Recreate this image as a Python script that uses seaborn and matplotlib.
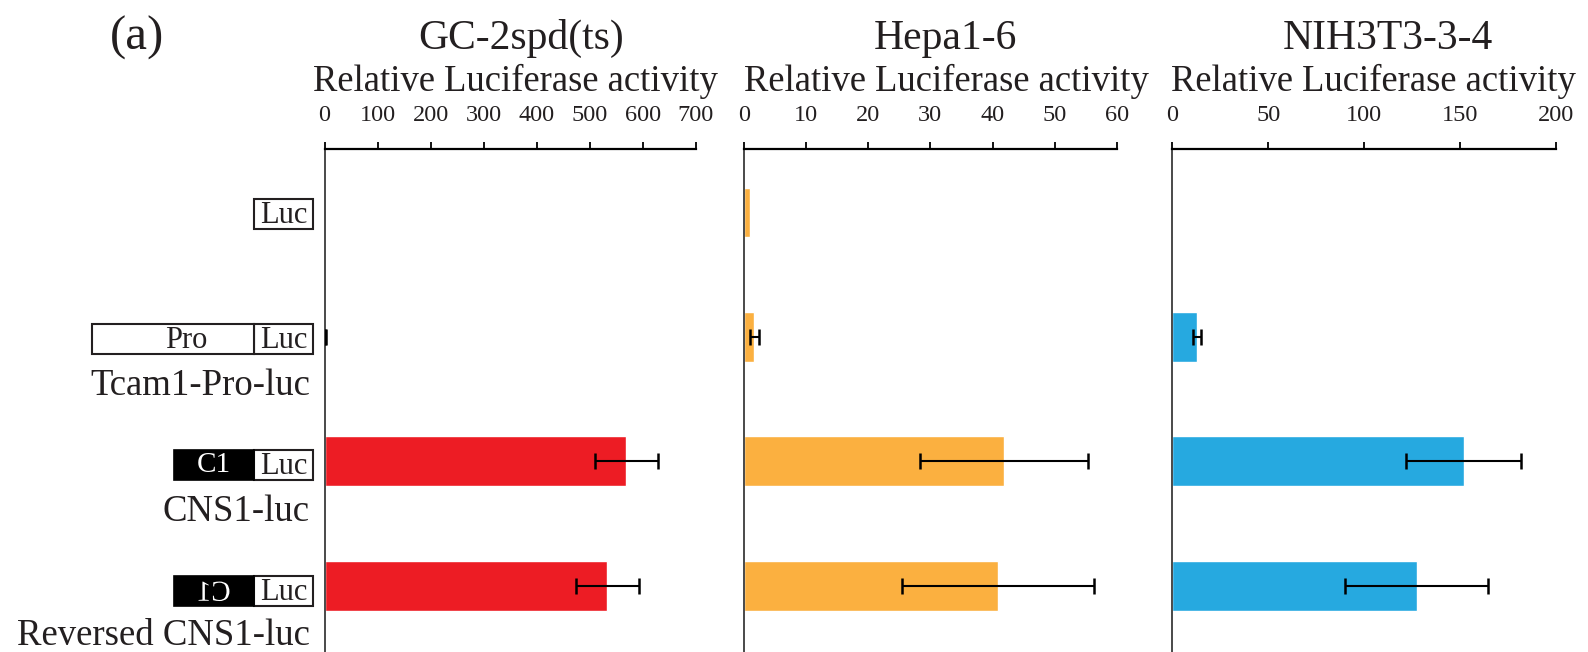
import numpy as np
import pandas as pd
import matplotlib
matplotlib.use("Agg")
import matplotlib.pyplot as plt
import seaborn as sns
from matplotlib.patches import Rectangle, PathPatch
from matplotlib.textpath import TextPath
from matplotlib.font_manager import FontProperties
from matplotlib.transforms import Affine2D

# ---- data -------------------------------------------------------------
constructs = ["Luc", "Tcam1-Pro-luc", "CNS1-luc", "Reversed CNS1-luc"]
row_labels = ["", "Tcam1-Pro-luc", "CNS1-luc", "Reversed CNS1-luc"]
cell_lines = ["GC-2spd(ts)", "Hepa1-6", "NIH3T3-3-4"]

gc_mean = [0.3, 1.5, 569, 533]
gc_sd = [np.nan, 0.5, 59, 59]
hepa_mean = [1.0, 1.7, 41.9, 40.9]
hepa_sd = [np.nan, 0.7, 13.5, 15.4]
nih_mean = [0.5, 12.9, 151.9, 127.4]
nih_sd = [np.nan, 2.3, 29.9, 37.2]

x_max = [700, 60, 200]
x_step = [100, 10, 50]
bar_colors = ["#ED1C24", "#FBB040", "#26A9E0"]

# ---- style ------------------------------------------------------------
sns.set_theme(style="white")
plt.rcParams["font.family"] = ["Liberation Serif", "DejaVu Serif"]
plt.rcParams["text.color"] = "#231F20"

W, H = 1588, 652
fig = plt.figure(figsize=(W / 100, H / 100), dpi=100)


def frac(x, y_top):
    return x / W, 1 - y_top / H


top_px, bot_px = 149.3, 656
row0_px, row_step_px = 212.5, 124.4
ylim = ((bot_px - row0_px) / row_step_px, -(row0_px - top_px) / row_step_px)

lefts = [324.5, 743.7, 1172.3]
rights = [696, 1117, 1556]

means = [gc_mean, hepa_mean, nih_mean]
sds = [gc_sd, hepa_sd, nih_sd]

axes = []
for i in range(3):
    ax = fig.add_axes([lefts[i] / W, 1 - bot_px / H,
                       (rights[i] - lefts[i]) / W, (bot_px - top_px) / H])
    df = pd.DataFrame({"construct": constructs, "value": means[i]})
    sns.barplot(data=df, x="value", y="construct", orient="h",
                color=bar_colors[i], saturation=1, width=0.4,
                errorbar=None, ax=ax)
    pos = np.arange(len(constructs))
    m = np.array(means[i], dtype=float)
    s = np.array(sds[i], dtype=float)
    ok = np.isfinite(s)
    ax.errorbar(m[ok], pos[ok], xerr=s[ok], fmt="none", ecolor="black",
                elinewidth=1.5, capsize=5.5, capthick=1.8, zorder=5)
    ax.set_xlim(0, x_max[i])
    ax.set_ylim(*ylim)
    ax.set_xticks(np.arange(0, x_max[i] + 1, x_step[i]))
    ax.xaxis.tick_top()
    ax.tick_params(axis="x", direction="out", length=5, width=1.3,
                   color="black", pad=12, labelsize=17.5,
                   labelcolor="#231F20")
    ax.tick_params(axis="y", left=False, labelleft=False)
    ax.set_xlabel("")
    ax.set_ylabel("")
    for side in ("right", "bottom"):
        ax.spines[side].set_visible(False)
    ax.spines["top"].set_color("black")
    ax.spines["top"].set_linewidth(1.6)
    ax.spines["left"].set_color("#3a3a3a")
    ax.spines["left"].set_linewidth(1.3)
    ax.patch.set_alpha(0)
    axes.append(ax)

# ---- panel titles and axis captions -----------------------------------
title_x = [521, 945, 1388]
label_x = [515, 946, 1373]
for i in range(3):
    fig.text(*frac(title_x[i], 49), cell_lines[i], ha="center",
             va="baseline", fontsize=30)
    fig.text(*frac(label_x[i], 91), "Relative Luciferase activity",
             ha="center", va="baseline", fontsize=26.4)
fig.text(*frac(137, 50), "(a)", ha="center", va="baseline", fontsize=35)

# ---- construct diagrams on the left -----------------------------------
ax0 = fig.add_axes([0, 1 - bot_px / H, lefts[0] / W, (bot_px - top_px) / H])
ax0.set_xlim(0, lefts[0])
ax0.set_ylim(*ylim)
ax0.axis("off")

box_h = 30 / row_step_px
luc_l, luc_r = 254, 313
box_off = [0.012, 0.016, 0.028, 0.045]
label_off = [0.0, 0.47, 0.48, 0.475]
for r in range(len(constructs)):
    yc = r + box_off[r]
    ax0.add_patch(Rectangle((luc_l, yc - box_h / 2), luc_r - luc_l, box_h,
                            facecolor="white", edgecolor="#231F20", lw=1.5))
    ax0.text((luc_l + luc_r) / 2, yc + 0.01, "Luc", ha="center",
             va="center", fontsize=22)
    if r == 1:
        ax0.add_patch(Rectangle((92, yc - box_h / 2), luc_l - 92, box_h,
                                facecolor="white", edgecolor="#231F20",
                                lw=1.5))
        ax0.text(186, yc + 0.01, "Pro", ha="center", va="center",
                 fontsize=22)
    if r >= 2:
        ax0.add_patch(Rectangle((174, yc - box_h / 2), luc_l - 174, box_h,
                                facecolor="black", edgecolor="black",
                                lw=1.2))
        if r == 2:
            ax0.text(214, yc, "C1", ha="center", va="center",
                     fontsize=21, color="white")
        else:
            fp = FontProperties(family="Liberation Serif")
            tp = TextPath((0, 0), "C1", size=29, prop=fp)
            bb = tp.get_extents()
            cx, cy = ax0.transData.transform((214, yc))
            tr = (Affine2D()
                  .translate(-(bb.x0 + bb.x1) / 2, -(bb.y0 + bb.y1) / 2)
                  .scale(-1, 1)
                  .translate(cx, cy))
            fig.patches.append(PathPatch(tp, transform=tr,
                                         facecolor="white", lw=0,
                                         figure=fig))
    if row_labels[r]:
        ax0.text(310, r + label_off[r], row_labels[r], ha="right",
                 va="baseline", fontsize=26.5)

fig.savefig("out.png", dpi=100)
